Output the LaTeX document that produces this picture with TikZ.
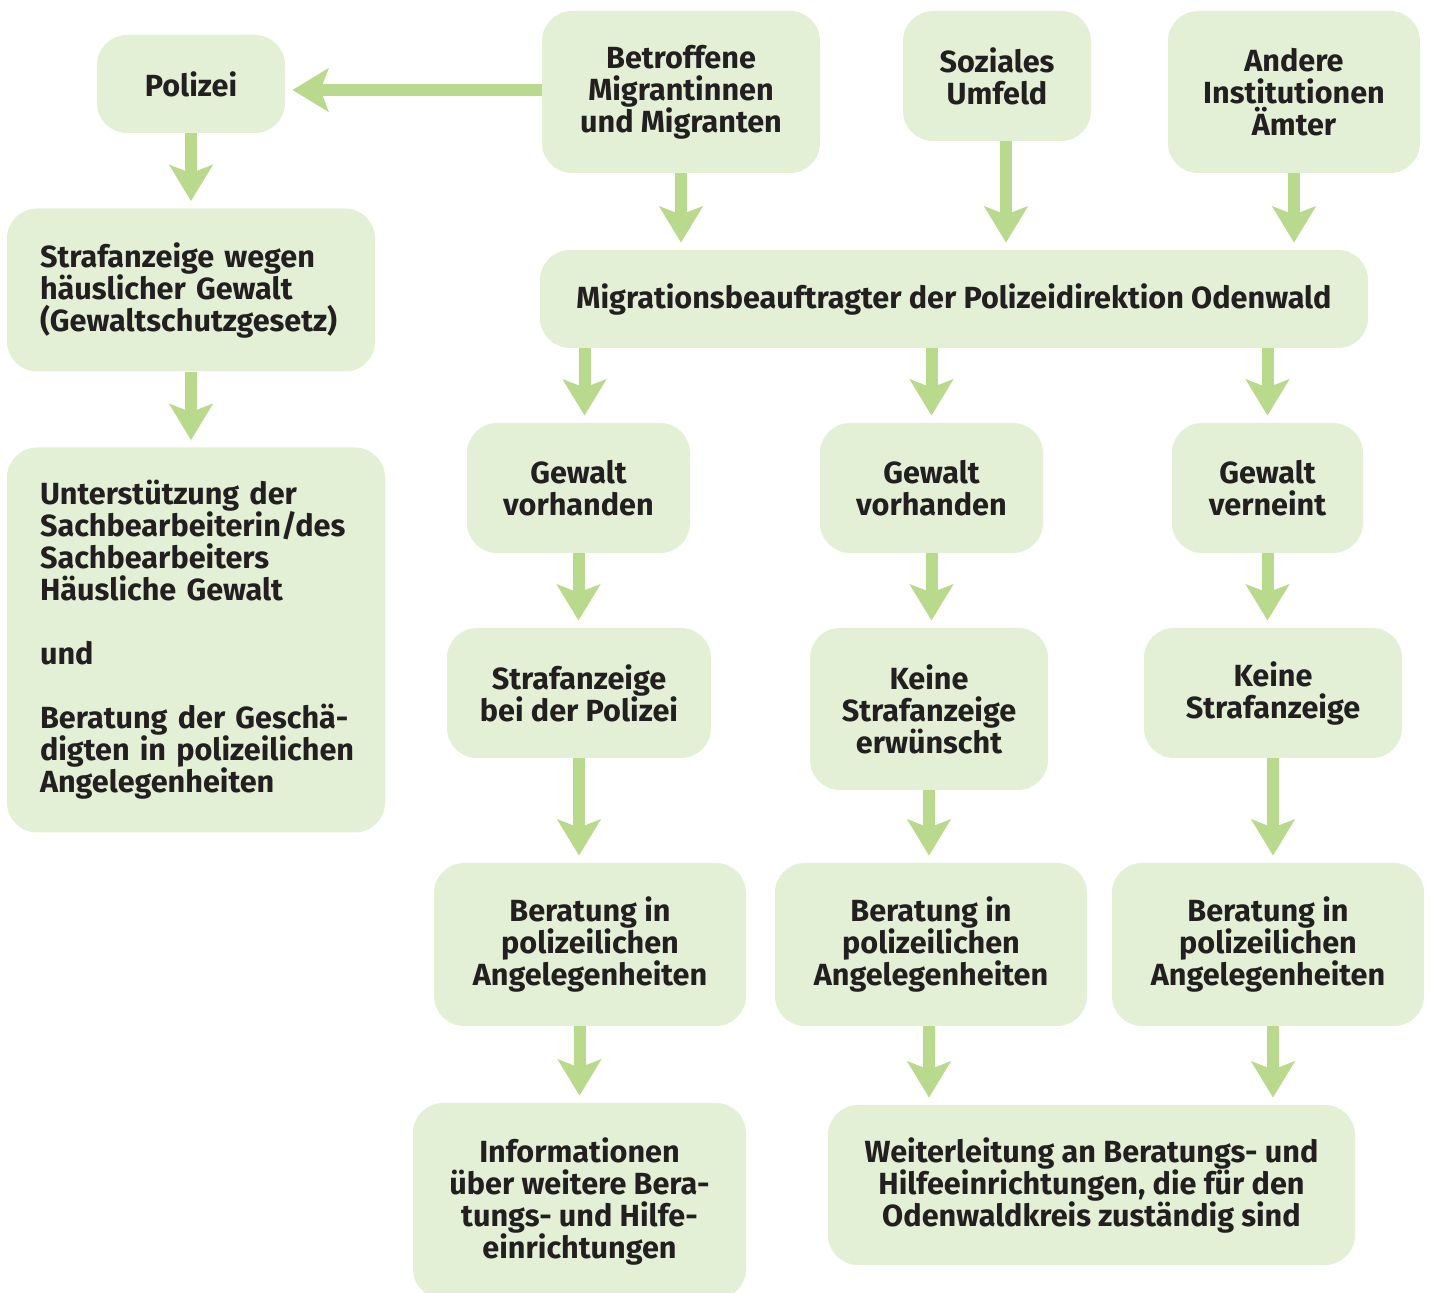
\documentclass[tikz,border=0pt]{standalone}
\usepackage{fontspec}
\setmainfont{Fira Sans}
\usetikzlibrary{arrows.meta,positioning}
\definecolor{boxgreen}{HTML}{E3F0D6}
\definecolor{arrowgreen}{HTML}{B9DA8D}
\definecolor{ink}{HTML}{231F20}

\begin{document}
\begin{tikzpicture}
	% Styles
	[
	x=0.5pt, y=-0.5pt,
	box/.style 2 args={rectangle,rounded corners=15pt,fill=boxgreen,inner sep=0pt,align=center,
		minimum width={#1*0.5pt},minimum height={#2*0.5pt},text=ink,
		font=\fontsize{15.3pt}{16pt}\selectfont\bfseries},
	leftbox/.style 2 args={box={#1}{#2},align=left,inner xsep=16.5pt,text width={(#1-66)*0.5pt}},
	flow/.style={draw=arrowgreen,line width=6pt,shorten >=3.5pt,
		-{Stealth[length=18pt,width=21.5pt,inset=4pt]}},
	]
	\useasboundingbox (0,0) rectangle (1432,1293);

	% Nodes
	\node at (191,84)	(polizei)	[box={188}{98}] {Polizei};
	\node at (681,92)	(betroffen)	[box={278}{162}] {Betroffene\\Migrantinnen\\und Migranten};
	\node at (997,76)	(umfeld)	[box={188}{130}] {Soziales\\Umfeld};
	\node at (1294,92)	(andere)	[box={252}{162}] {Andere\\Institutionen\\Ämter};
	\node at (191,290)	(anzeige)	[leftbox={368}{163}] {Strafanzeige wegen\\häuslicher Gewalt\\(Gewaltschutzgesetz)};
	\node at (196,640)	(hilfe)	[leftbox={378}{385}] {Unterstützung der\\Sachbearbeiterin/des\\Sachbearbeiters\\Häusliche Gewalt\\[16pt]und\\[16pt]Beratung der Geschä-\\\mbox{digten in polizeilichen}\\Angelegenheiten};
	\node at (954,299)	(migr)	[box={828}{98}] {Migrationsbeauftragter der Polizeidirektion Odenwald};
	\node at (578.5,488)	(gewA)	[box={223}{130}] {Gewalt\\vorhanden};
	\node at (931.5,488)	(gewB)	[box={223}{130}] {Gewalt\\vorhanden};
	\node at (1267.5,488)	(gewC)	[box={191}{130}] {Gewalt\\verneint};
	\node at (579,693)	(anzA)	[box={264}{130}] {Strafanzeige\\bei der Polizei};
	\node at (929,709)	(anzB)	[box={238}{162}] {Keine\\Strafanzeige\\erwünscht};
	\node at (1273,693)	(anzC)	[box={258}{130}] {Keine\\Strafanzeige};
	\node at (590,944.5)	(berA)	[box={312}{163}] {Beratung in\\polizeilichen\\Angelegenheiten};
	\node at (931,944.5)	(berB)	[box={312}{163}] {Beratung in\\polizeilichen\\Angelegenheiten};
	\node at (1268,944.5)	(berC)	[box={312}{163}] {Beratung in\\polizeilichen\\Angelegenheiten};
	\node at (579.5,1201)	(info)	[box={333}{196}] {Informationen\\über weitere Bera-\\tungs- und Hilfe-\\einrichtungen};
	\node at (1091.5,1185)	(weiter)	[box={527}{160}] {Weiterleitung an Beratungs- und\\Hilfeeinrichtungen, die für den\\Odenwaldkreis zuständig sind};

	% Connections
	\draw[flow] ([yshift=1pt]betroffen.west) -- ([yshift=1pt]betroffen.west -| polizei.east);
	\draw[flow] (polizei) -- (anzeige);
	\draw[flow] (anzeige.south) -- (anzeige.south |- hilfe.north);
	\draw[flow] (betroffen) -- (betroffen |- migr.north);
	\draw[flow] ([xshift=4.5pt]umfeld.south) -- ([xshift=4.5pt]umfeld.south |- migr.north);
	\draw[flow] (andere) -- (andere |- migr.north);
	\draw[flow] ([xshift=3pt]gewA.north |- migr.south) -- ([xshift=3pt]gewA.north);
	\draw[flow] (gewB.north |- migr.south) -- (gewB.north);
	\draw[flow] (gewC.north |- migr.south) -- (gewC.north);
	\draw[flow] (gewA) -- (gewA |- anzA.north);
	\draw[flow] (gewB) -- (gewB |- anzB.north);
	\draw[flow] (gewC) -- (gewC |- anzC.north);
	\draw[flow] (anzA) -- (anzA |- berA.north);
	\draw[flow] (anzB) -- (anzB |- berB.north);
	\draw[flow] (anzC) -- (anzC |- berC.north);
	\draw[flow] (info.north |- berA.south) -- (info.north);
	\draw[flow] (berB.south -| anzB) -- (anzB |- weiter.north);
	\draw[flow] (berC.south -| anzC) -- (anzC |- weiter.north);

\end{tikzpicture}
\end{document}
